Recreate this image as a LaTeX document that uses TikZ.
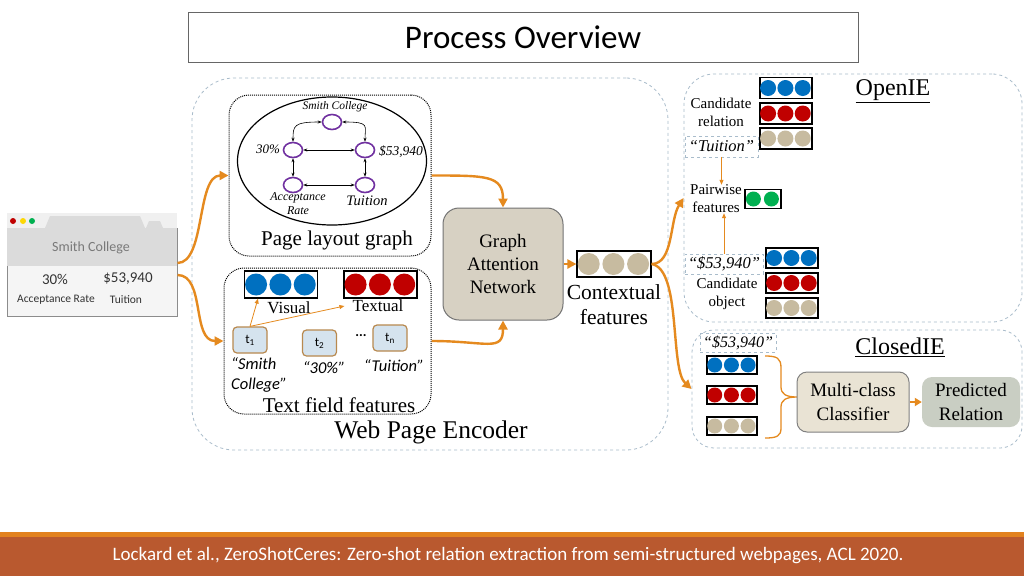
\documentclass[tikz,border=0pt]{standalone}
\usepackage{fontspec}
\setmainfont{Liberation Serif}
\newfontfamily\calfont{Carlito}
\usetikzlibrary{shapes.geometric,arrows.meta,calc,decorations.pathreplacing}
\definecolor{org}{HTML}{E58A1F}
\definecolor{cblue}{HTML}{0070C0}
\definecolor{cred}{HTML}{C00000}
\definecolor{ctan}{HTML}{C7BBA0}
\definecolor{cgreen}{HTML}{00B050}
\definecolor{purp}{HTML}{7030A0}
\definecolor{dashb}{HTML}{A9BCCB}
\definecolor{footbg}{HTML}{B9592F}
\definecolor{footln}{HTML}{E2821F}
\definecolor{gatfill}{HTML}{D7D1C3}
\definecolor{mccfill}{HTML}{E9E3D4}
\definecolor{predfill}{HTML}{C9CEC3}
\definecolor{tfill}{HTML}{D5E3EE}
\definecolor{tdraw}{HTML}{B8894F}
\newcommand\cbox[8]{%
  \node[vbox,minimum width=#4pt,minimum height=#5pt] (#1) at (#2,#3) {};
  \foreach \i in {1,...,#7}{\fill[#6] ([xshift={(\i-0.5)*#4/#7*1pt}]#1.west) circle (#8pt);}
}
\tikzset{
  vbox/.style={draw=black,line width=1.2pt,inner sep=0pt,rectangle},
  bigarrow/.style={draw=org,line width=2.4pt,-{Triangle[length=9pt,width=9pt]}},
  thinarrow/.style={draw=org,line width=0.8pt,-{Triangle[length=5pt,width=4pt]}},
  garrow/.style={draw=black,line width=0.6pt,{Stealth[length=4pt]}-{Stealth[length=4pt]}},
  gnode/.style={ellipse,draw=purp,line width=1.6pt,minimum width=19pt,minimum height=15pt,inner sep=0pt},
  dashlbl/.style={draw=dashb,dashed,line width=0.7pt,inner sep=0pt,font=\itshape\fontsize{16.5}{16.5}\selectfont},
  tbox/.style={draw=tdraw,fill=tfill,line width=1.2pt,rounded corners=4pt,minimum width=34pt,minimum height=26pt,inner sep=0pt,font=\calfont\fontsize{13}{13}\selectfont},
  region/.style={draw=dashb,dashed,line width=0.8pt,inner sep=0pt},
  dotbox/.style={draw=black,densely dotted,line width=1pt,inner sep=0pt,rounded corners=20pt},
  lbl/.style={inner sep=0pt,align=center},
}
\begin{document}
\begin{tikzpicture}[x=1pt,y=-1pt]
\useasboundingbox (0,0) rectangle (1024,576);
\fill[white] (0,0) rectangle (1024,576);

% title
\node[draw=gray!80!black,line width=0.8pt,minimum width=670pt,minimum height=50pt,inner sep=0pt,font=\calfont\fontsize{33}{33}\selectfont] (title) at (523,37) {Process Overview};

% footer
\fill[footln] (0,532) rectangle (1024,537);
\fill[footbg] (0,537) rectangle (1024,576);
\node[lbl,text=white,font=\calfont\fontsize{19}{19}\selectfont] (foot) at (508,556) {Lockard et al., ZeroShotCeres: Zero-shot relation extraction from semi-structured webpages, ACL 2020.};

% regions
\node[region,rounded corners=42pt,minimum width=476pt,minimum height=372pt] (wpe) at (430,264) {};
\node[region,rounded corners=30pt,minimum width=338pt,minimum height=248pt] (oie) at (853,198) {};
\node[region,rounded corners=22pt,minimum width=330pt,minimum height=118pt] (cie) at (857,389) {};
\node[lbl,font=\fontsize{25.5}{25.5}\selectfont] (wpel) at (431,432) {Web Page Encoder};

% browser
\fill[gray!12] (7,213) rectangle (177,228);
\fill[gray!28] (45,228) -- (50,216) -- (140,216) -- (145,228) -- cycle;
\fill[gray!28] (146,228) -- (149,221) -- (160,221) -- (163,228) -- cycle;
\fill[cred] (13,221) circle (3pt);
\fill[yellow!75!orange] (23,221) circle (3pt);
\fill[cgreen] (32,221) circle (3pt);
\node[draw=gray!90,line width=1pt,fill=gray!8,minimum width=170pt,minimum height=88pt,inner sep=0pt] (browser) at (92,272) {};
\fill[gray!28] ([shift={(0.5pt,-0.5pt)}]browser.north west) rectangle (176.5,266);
\node[lbl,text=gray!95!black,font=\calfont\fontsize{14}{14}\selectfont] (bsc) at (91,248) {Smith College};
\node[lbl,text=black!80,font=\calfont\fontsize{15}{15}\selectfont] (b30) at (55,279) {30\%};
\node[lbl,text=black!80,font=\calfont\fontsize{15}{15}\selectfont] (b53) at (128,279) {\$53,940};
\node[lbl,text=black!80,font=\calfont\fontsize{11.5}{11.5}\selectfont] (bacc) at (56,300) {Acceptance Rate};
\node[lbl,text=black!80,font=\calfont\fontsize{11.5}{11.5}\selectfont] (btu) at (126,300) {Tuition};

% page layout graph
\node[dotbox,minimum width=202pt,minimum height=161pt] (plg) at (330,175.5) {};
\node[ellipse,draw=black,line width=1.2pt,minimum width=189pt,minimum height=128pt,inner sep=0pt] (ell) at (332,161) {};
\node[gnode] (g1) at (332,122) {};
\node[gnode] (g2) at (293,150) {};
\node[gnode] (g3) at (365,150) {};
\node[gnode] (g4) at (293,185) {};
\node[gnode] (g5) at (365,185) {};
\draw[garrow] (g1.west) .. controls +(-28,0) and +(0,-16) .. (g2.north);
\draw[garrow] (g1.east) .. controls +(28,0) and +(0,-16) .. (g3.north);
\draw[garrow] (g2.east) -- (g3.west);
\draw[garrow] (g2.south) -- (g4.north);
\draw[garrow] (g3.south) -- (g5.north);
\draw[garrow] (g4.east) -- (g5.west);
\node[lbl,font=\itshape\fontsize{11.5}{11.5}\selectfont] (l1) at (335,107) {Smith College};
\node[lbl,font=\itshape\fontsize{13}{13}\selectfont] (l2) at (268,149) {30\%};
\node[lbl,font=\itshape\fontsize{13.5}{13.5}\selectfont] (l3) at (401,152) {\$53,940};
\node[lbl,font=\itshape\fontsize{12}{14}\selectfont] (l4) at (298,204) {Acceptance\\Rate};
\node[lbl,font=\itshape\fontsize{14.5}{14.5}\selectfont] (l5) at (367,201) {Tuition};
\node[lbl,font=\fontsize{21}{21}\selectfont] (plgl) at (337,240) {Page layout graph};

% text field features
\node[dotbox,minimum width=207pt,minimum height=146pt] (tff) at (327.5,341) {};
\cbox{vis}{281}{284.5}{73}{27}{cblue}{3}{11}
\cbox{tex}{380.5}{284.5}{73}{27}{cred}{3}{11}
\node[lbl,font=\fontsize{17}{17}\selectfont] (visl) at (289,308) {Visual};
\node[lbl,font=\fontsize{17}{17}\selectfont] (texl) at (378,306) {Textual};
\node[tbox] (t1) at (250,340) {t\textsubscript{1}};
\node[tbox] (t2) at (319.5,343) {t\textsubscript{2}};
\node[tbox] (tn) at (390,338) {t\textsubscript{n}};
\node[lbl,font=\calfont\bfseries\fontsize{14}{14}\selectfont] (dots) at (361,336) {...};
\draw[thinarrow] (t1.north) -- ([xshift=-23pt]vis.south);
\draw[thinarrow] (t1.north) -- ([xshift=-8pt]texl.west);
\node[anchor=west,align=left,inner sep=0pt,font=\calfont\itshape\fontsize{16.5}{20}\selectfont] (tl1) at (231,375) {“Smith\\College”};
\node[lbl,font=\calfont\itshape\fontsize{16.5}{16.5}\selectfont] (tl2) at (324,368) {“30\%”};
\node[lbl,font=\calfont\itshape\fontsize{16.5}{16.5}\selectfont] (tl3) at (394,366) {“Tuition”};
\node[lbl,font=\fontsize{21}{21}\selectfont] (tffl) at (339,405) {Text field features};

% GAT
\node[draw=black!55,fill=gatfill,line width=1pt,rounded corners=16pt,minimum width=120pt,minimum height=112pt,inner sep=0pt,align=center,font=\fontsize{19}{23}\selectfont] (gat) at (503,264) {Graph\\Attention\\Network};
\cbox{ctx}{614}{264}{74}{26}{ctan}{3}{11}
\node[lbl,font=\fontsize{21.5}{25}\selectfont] (ctxl) at (614,305) {Contextual\\features};

% OpenIE
\node[lbl,font=\fontsize{24}{24}\selectfont] (oiel) at (893,91) {\underline{OpenIE}};
\cbox{cr1}{786}{88}{52}{21}{cblue}{3}{8}
\cbox{cr2}{786}{113.5}{52}{21}{cred}{3}{8}
\cbox{cr3}{786}{138.5}{52}{21}{ctan}{3}{8}
\node[lbl,font=\fontsize{15}{18}\selectfont] (crl) at (721,112) {Candidate\\relation};
\node[dashlbl,minimum width=73pt,minimum height=21pt] (qt) at (721.5,146.5) {“Tuition”};
\node[lbl,font=\fontsize{15}{18}\selectfont] (pwl) at (716,199) {Pairwise\\features};
\cbox{pw}{763}{199}{36}{19}{cgreen}{2}{7.5}
\node[dashlbl,minimum width=78pt,minimum height=20pt] (qs) at (724,264) {“\$53,940”};
\cbox{co1}{792}{258}{52}{20}{cblue}{3}{8}
\cbox{co2}{792}{283}{52}{20}{cred}{3}{8}
\cbox{co3}{792}{308}{52}{20}{ctan}{3}{8}
\node[lbl,font=\fontsize{15}{18}\selectfont] (col) at (727,294) {Candidate\\object};
\draw[thinarrow] (qt.south) -- (qt.south |- pwl.north);
\draw[thinarrow] (qs.north) -- (qs.north |- pwl.south);

% ClosedIE
\node[lbl,font=\fontsize{24}{24}\selectfont] (ciel) at (900,347) {\underline{ClosedIE}};
\node[dashlbl,font=\itshape\fontsize{16}{16}\selectfont,minimum width=76pt,minimum height=19pt] (qs2) at (738,342.5) {“\$53,940”};
\cbox{cl1}{732}{365}{50}{18}{cblue}{3}{7.5}
\cbox{cl2}{732}{395}{50}{18}{cred}{3}{7.5}
\cbox{cl3}{732}{426}{50}{18}{ctan}{3}{7.5}
\coordinate (bt) at (765,356);
\coordinate (btip) at (797,397);
\coordinate (bb) at (765,438);
\draw[org,line width=1.3pt,line join=round] (bt) .. controls (777,356) and (781,358) .. (781,368) -- (781,387) .. controls (781,394) and (786,397) .. (btip)
  .. controls (786,397) and (781,400) .. (781,407) -- (781,428) .. controls (781,436) and (777,438) .. (bb);
\node[draw=black!50,fill=mccfill,line width=1pt,rounded corners=10pt,minimum width=112pt,minimum height=60pt,inner sep=0pt,align=center,font=\fontsize{19}{24}\selectfont] (mcc) at (853,402) {Multi-class\\Classifier};
\node[fill=predfill,rounded corners=10pt,minimum width=98pt,minimum height=50pt,inner sep=0pt,align=center,font=\fontsize{19}{24}\selectfont] (pred) at (971,402) {Predicted\\Relation};
\draw[org,line width=2.2pt,-{Triangle[length=7pt,width=8pt]}] (mcc.east) -- (pred.west);

% big arrows
\draw[bigarrow] ([yshift=9pt]browser.east) .. controls +(28,0) and +(-32,0) .. (plg.west);
\draw[bigarrow] ([yshift=-3pt]browser.east) .. controls +(28,0) and +(-32,0) .. (tff.west);
\draw[bigarrow] (plg.east) .. controls +(55,0) and +(0,-32) .. (gat.north);
\draw[bigarrow] (tff.east) .. controls +(55,0) and +(0,32) .. (gat.south);
\draw[bigarrow] (gat.east) -- (ctx.west);
\draw[bigarrow] (ctx.east) .. controls +(22,0) and +(-14,22) .. (oie.west);
\draw[bigarrow] (ctx.east) .. controls +(30,5) and +(-22,-20) .. (cie.west);
\end{tikzpicture}
\end{document}
